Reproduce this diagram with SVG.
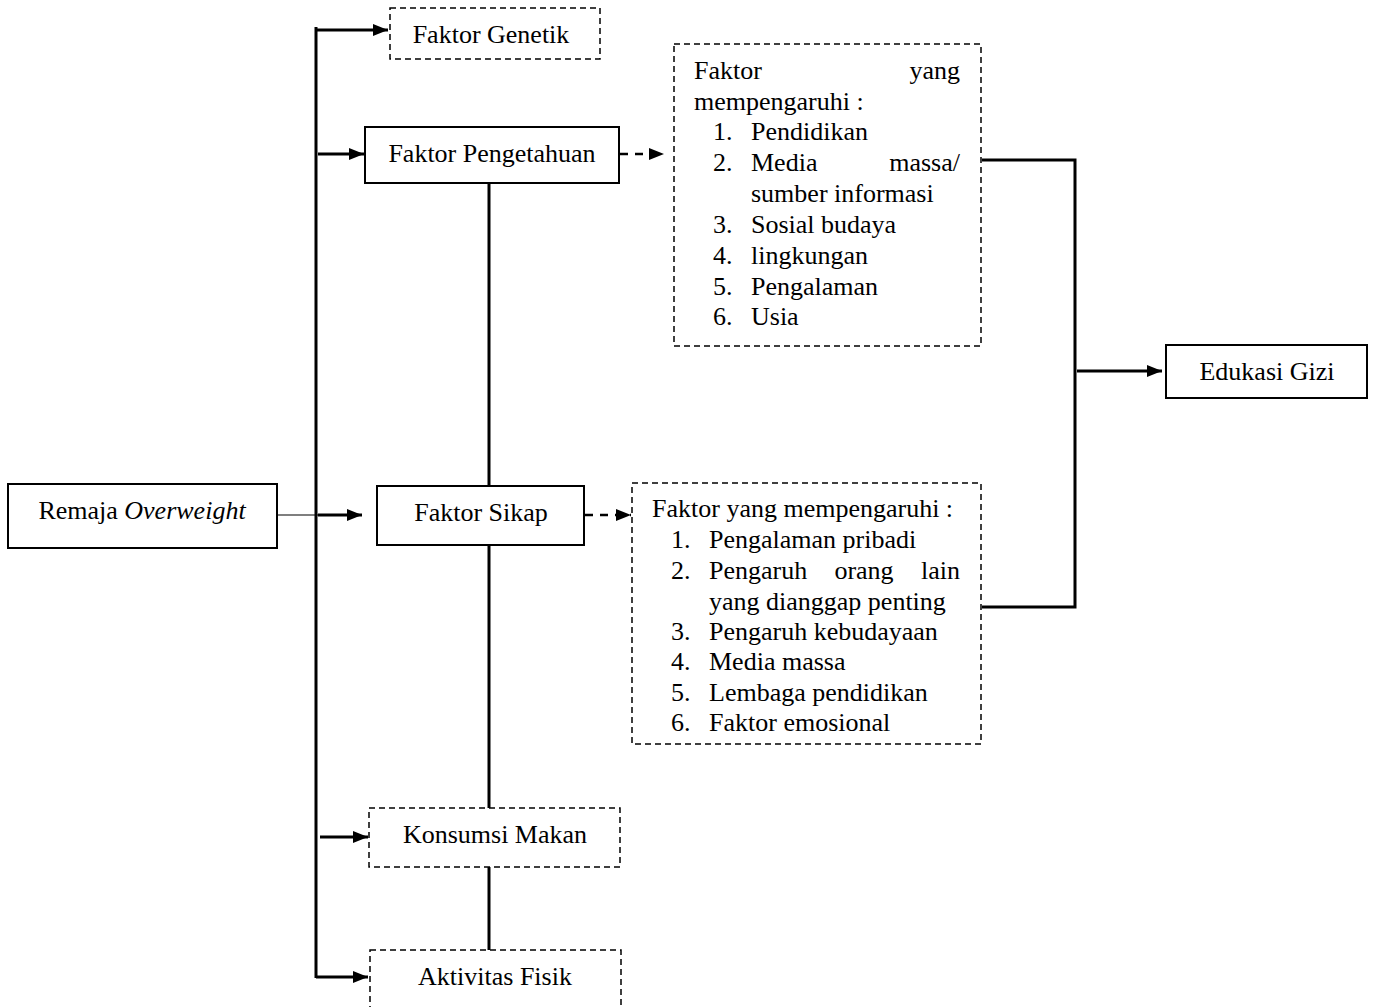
<svg xmlns="http://www.w3.org/2000/svg" width="1375" height="1007" viewBox="0 0 1375 1007">
<style>
text{font-family:"Liberation Serif","Times New Roman",serif;font-size:26px;fill:#000}
.solid{fill:#fff;stroke:#000;stroke-width:2}
.dash{fill:#fff;stroke:#000;stroke-width:1.5;stroke-dasharray:6,4}
.ln{stroke:#000;stroke-width:3;fill:none}
.thin{stroke:#000;stroke-width:1.2;fill:none}
.dl{stroke:#000;stroke-width:2.5;fill:none;stroke-dasharray:8,7}
</style>
<defs>
<marker id="ah" viewBox="0 0 15 12" refX="15" refY="6" markerWidth="15" markerHeight="12" markerUnits="userSpaceOnUse" orient="auto">
<path d="M0,0 L15,6 L0,12 Z" fill="#000"/>
</marker>
</defs>
<g id="connectors">
<line class="ln" x1="316" y1="27" x2="316" y2="978"/>
<line class="ln" x1="316" y1="30" x2="388" y2="30" marker-end="url(#ah)"/>
<line class="ln" x1="318" y1="154" x2="364" y2="154" marker-end="url(#ah)"/>
<line class="thin" x1="277" y1="515" x2="318" y2="515"/>
<line class="ln" x1="318" y1="515" x2="362" y2="515" marker-end="url(#ah)"/>
<line class="ln" x1="320" y1="837" x2="368" y2="837" marker-end="url(#ah)"/>
<line class="ln" x1="316" y1="977" x2="368" y2="977" marker-end="url(#ah)"/>
<line class="dl" x1="620" y1="154" x2="664" y2="154" marker-end="url(#ah)"/>
<line class="dl" x1="585" y1="515" x2="631" y2="515" marker-end="url(#ah)"/>
<line class="ln" x1="489" y1="183" x2="489" y2="486"/>
<line class="ln" x1="489" y1="545" x2="489" y2="808"/>
<line class="ln" x1="489" y1="867" x2="489" y2="950"/>
<polyline class="ln" points="982,160 1075,160 1075,607 982,607"/>
<line class="ln" x1="1077" y1="371" x2="1162" y2="371" marker-end="url(#ah)"/>
</g>
<g id="remaja">
<rect class="solid" x="8" y="484" width="269" height="64"/>
<text x="142" y="519" text-anchor="middle">Remaja <tspan font-style="italic">Overweight</tspan></text>
</g>
<g id="genetik">
<rect class="dash" x="390" y="8" width="210" height="51"/>
<text x="491" y="43" text-anchor="middle">Faktor Genetik</text>
</g>
<g id="pengetahuan">
<rect class="solid" x="365" y="127" width="254" height="56"/>
<text x="492" y="162" text-anchor="middle">Faktor Pengetahuan</text>
</g>
<g id="faktor-pengetahuan-list">
<rect class="dash" x="674" y="44" width="307" height="302"/>
<text x="694" y="79">Faktor</text>
<text x="960" y="79" text-anchor="end">yang</text>
<text x="694" y="110">mempengaruhi :</text>
<text x="713" y="140">1.</text><text x="751" y="140">Pendidikan</text>
<text x="713" y="171">2.</text><text x="751" y="171">Media</text><text x="960" y="171" text-anchor="end">massa/</text>
<text x="751" y="202">sumber informasi</text>
<text x="713" y="233">3.</text><text x="751" y="233">Sosial budaya</text>
<text x="713" y="264">4.</text><text x="751" y="264">lingkungan</text>
<text x="713" y="295">5.</text><text x="751" y="295">Pengalaman</text>
<text x="713" y="325">6.</text><text x="751" y="325">Usia</text>
</g>
<g id="sikap">
<rect class="solid" x="377" y="486" width="207" height="59"/>
<text x="481" y="521" text-anchor="middle">Faktor Sikap</text>
</g>
<g id="faktor-sikap-list">
<rect class="dash" x="632" y="483" width="349" height="261"/>
<text x="652" y="517">Faktor yang mempengaruhi :</text>
<text x="671" y="548">1.</text><text x="709" y="548">Pengalaman pribadi</text>
<text x="671" y="579">2.</text><text x="709" y="579">Pengaruh</text><text x="864" y="579" text-anchor="middle">orang</text><text x="960" y="579" text-anchor="end">lain</text>
<text x="709" y="610">yang dianggap penting</text>
<text x="671" y="640">3.</text><text x="709" y="640">Pengaruh kebudayaan</text>
<text x="671" y="670">4.</text><text x="709" y="670">Media massa</text>
<text x="671" y="701">5.</text><text x="709" y="701">Lembaga pendidikan</text>
<text x="671" y="731">6.</text><text x="709" y="731">Faktor emosional</text>
</g>
<g id="konsumsi">
<rect class="dash" x="369" y="808" width="251" height="59"/>
<text x="495" y="843" text-anchor="middle">Konsumsi Makan</text>
</g>
<g id="aktivitas">
<rect class="dash" x="370" y="950" width="251" height="70"/>
<text x="495" y="985" text-anchor="middle">Aktivitas Fisik</text>
</g>
<g id="edukasi">
<rect class="solid" x="1166" y="345" width="201" height="53"/>
<text x="1267" y="380" text-anchor="middle">Edukasi Gizi</text>
</g>
</svg>
